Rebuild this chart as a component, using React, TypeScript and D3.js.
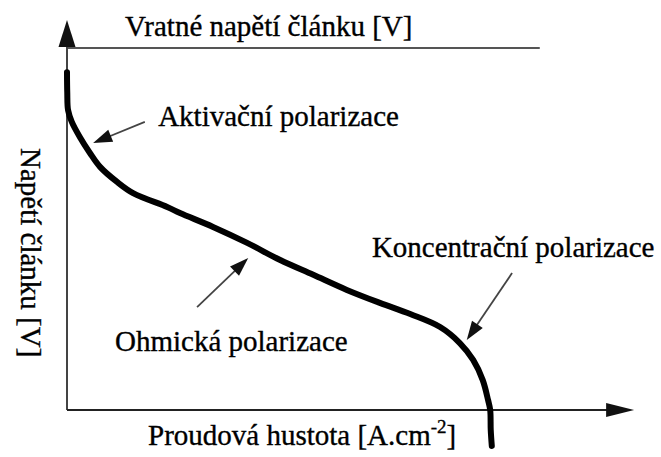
import React from "react";
import * as d3 from "d3";

// Polarization curve (arbitrary units): current density vs. cell voltage
const currentDensity = [0, 0.0005, 0.002, 0.009, 0.024, 0.043, 0.062, 0.094, 0.124, 0.188, 0.212, 0.274, 0.338, 0.4, 0.462, 0.525, 0.587, 0.644, 0.7, 0.737, 0.762, 0.78, 0.79, 0.794, 0.795, 0.797];
const cellVoltage = [1.12, 1.051, 0.994, 0.955, 0.905, 0.852, 0.806, 0.756, 0.719, 0.673, 0.653, 0.607, 0.554, 0.497, 0.448, 0.398, 0.355, 0.318, 0.275, 0.222, 0.166, 0.099, 0.033, 0, -0.066, -0.119];

const reversibleVoltage = 1.2;
const reversibleLineEnd = 0.887;

const titleLabel = "Vratné napětí článku [V]";
const xLabel = "Proudová hustota [A.cm";
const xLabelSup = "-2";
const yLabel = "Napětí článku [V]";

const regionLabels = ["Aktivační polarizace", "Ohmická polarizace", "Koncentrační polarizace"];
// arrow [fromJ, fromV, toJ, toV]
const regionArrows = [
  [0.146, 0.955, 0.049, 0.885],
  [0.244, 0.341, 0.34, 0.504],
  [0.835, 0.454, 0.75, 0.232],
];
const regionLabelPos = [
  [0.171, 0.941],
  [0.09, 0.196],
  [0.572, 0.507],
];

const W = 661;
const H = 457;
const FONT = '"Liberation Serif", "Times New Roman", serif';
const textStyle: React.CSSProperties = { fontFamily: FONT, fontSize: "29px" };

export default function App() {
  const x = d3.scaleLinear().domain([0, 1]).range([67, 600]);
  const y = d3.scaleLinear().domain([0, 1.2]).range([410, 48]);

  const pts: [number, number][] = currentDensity.map((j, i) => [j, cellVoltage[i]]);
  const line = d3
    .line<[number, number]>()
    .x((d) => x(d[0]))
    .y((d) => y(d[1]))
    .curve(d3.curveCatmullRom.alpha(0.5));

  const x0 = x(0);
  const y0 = y(0);
  const yTip = y(1.293);
  const xTip = x(1.064);

  const arrowHead = (fx: number, fy: number, tx: number, ty: number, len: number, half: number) => {
    const ang = Math.atan2(ty - fy, tx - fx);
    const bx = tx - len * Math.cos(ang);
    const by = ty - len * Math.sin(ang);
    const px = -Math.sin(ang) * half;
    const py = Math.cos(ang) * half;
    return `M${tx},${ty}L${bx + px},${by + py}L${bx - px},${by - py}Z`;
  };

  const txt = { fill: "#000", stroke: "#000", strokeWidth: 0.35 };

  return (
    <svg
      width={W}
      height={H}
      style={{ position: "absolute", left: 0, top: 0, background: "#fff" }}
    >
      <rect width={W} height={H} fill="#fff" />
      {/* reversible voltage line */}
      <line x1={x0} x2={x(reversibleLineEnd)} y1={y(reversibleVoltage)} y2={y(reversibleVoltage)} stroke="#555" strokeWidth={2} />
      {/* axes */}
      <line x1={x0} x2={x0} y1={y0} y2={yTip + 10} stroke="#444" strokeWidth={2} />
      <path d={arrowHead(x0, y0, x0, yTip, 27, 8.5)} fill="#111" />
      <line x1={x0} x2={xTip - 10} y1={y0} y2={y0} stroke="#222" strokeWidth={2} />
      <path d={arrowHead(x0, y0, xTip, y0, 28, 7)} fill="#111" />

      {/* curve */}
      <path d={line(pts) || ""} fill="none" stroke="#000" strokeWidth={6} strokeLinecap="round" />

      {/* annotation arrows */}
      {regionArrows.map((a, i) => {
        const fx = x(a[0]), fy = y(a[1]), tx = x(a[2]), ty = y(a[3]);
        const ang = Math.atan2(ty - fy, tx - fx);
        return (
          <g key={i}>
            <line x1={fx} y1={fy} x2={tx - 12 * Math.cos(ang)} y2={ty - 12 * Math.sin(ang)} stroke="#444" strokeWidth={1.8} />
            <path d={arrowHead(fx, fy, tx, ty, 19, 6.5)} fill="#111" />
          </g>
        );
      })}

      {/* texts */}
      <text x={x(0.109)} y={36} style={textStyle} {...txt}>{titleLabel}</text>
      {regionLabels.map((t, i) => (
        <text key={t} x={x(regionLabelPos[i][0])} y={y(regionLabelPos[i][1])} style={textStyle} {...txt}>
          {t}
        </text>
      ))}
      <text x={x(0.152)} y={445} style={textStyle} {...txt}>
        {xLabel}
        <tspan style={{ fontSize: "19px" }} dy={-12}>{xLabelSup}</tspan>
        <tspan dy={12}>]</tspan>
      </text>
      <text transform="translate(21,148) rotate(90)" style={textStyle} {...txt}>
        {yLabel}
      </text>
    </svg>
  );
}
